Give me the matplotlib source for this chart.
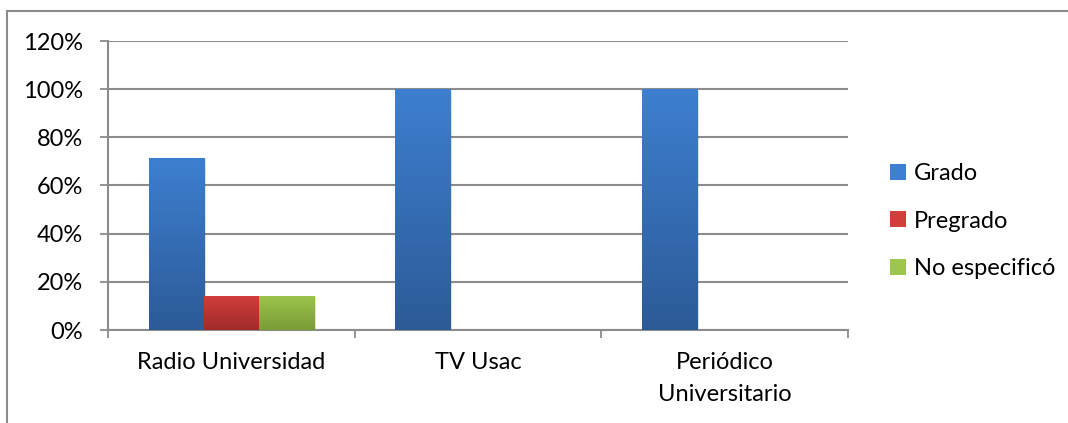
import matplotlib
matplotlib.use("Agg")
import matplotlib.pyplot as plt
import numpy as np
from matplotlib.colors import LinearSegmentedColormap
from matplotlib.patches import Rectangle

categories = ["Radio Universidad", "TV Usac", "Periódico\nUniversitario"]
series_names = ["Grado", "Pregrado", "No especificó"]
grado = [71.4, 100, 100]
pregrado = [14.3, 0, 0]
no_especifico = [14.3, 0, 0]
yticks = [0, 20, 40, 60, 80, 100, 120]

series = [grado, pregrado, no_especifico]
grads = [("#3d7fd0", "#2c5b97"), ("#d23f3b", "#a02b29"), ("#9dc64c", "#7a9b36")]

plt.rcParams['font.family'] = ['Lato', 'DejaVu Sans']
FS = 17

fig = plt.figure(figsize=(10.68, 4.23), dpi=100)
ax = fig.add_axes([108/1068, 1-330/423, (848-108)/1068, (330-41)/423])

# outer frame
fig.patches.append(Rectangle((7/1068, -0.1), 1.2, 1-11/423+0.1, transform=fig.transFigure,
                             fill=False, edgecolor="#8c8c8c", linewidth=1.5, zorder=0))

x = np.arange(len(categories))
w = 0.223
grad_img = np.linspace(1, 0, 256).reshape(-1, 1)
for i, (vals, name, (c1, c2)) in enumerate(zip(series, series_names, grads)):
    cmap = LinearSegmentedColormap.from_list(name, [c2, c1])
    bars = ax.bar(x + (i - 1) * w, vals, w, color=c1, label=name, zorder=3, linewidth=0)
    for b in bars:
        h = b.get_height()
        if h <= 0:
            continue
        bx, by, bw = b.get_x(), b.get_y(), b.get_width()
        ax.add_patch(Rectangle((bx + 0.008, by), bw, h - 0.6, facecolor="#000000", alpha=0.12,
                               linewidth=0, zorder=2.5))
        im = ax.imshow(grad_img, extent=[bx, bx + bw, by, by + h], aspect="auto",
                       cmap=cmap, zorder=3.5, origin="upper")
        im.set_clip_path(b)

ax.set_xlim(-0.5, 2.5)
ax.set_ylim(0, 120)
ax.set_yticks(yticks)
ax.set_yticklabels([f"{v}%" for v in yticks], fontsize=FS)
ax.set_xticks(x)
ax.set_xticklabels(categories, fontsize=FS, linespacing=1.65)
ax.set_xticks([-0.5, 0.5, 1.5, 2.5], minor=True)
ax.tick_params(axis="x", which="major", length=0, pad=16)
ax.tick_params(axis="x", which="minor", length=6, color="#8c8c8c", width=1.3, direction="out")
ax.tick_params(axis="y", length=6, color="#8c8c8c", width=1.3, pad=12)
ax.grid(axis="y", color="#8c8c8c", linewidth=1.5, zorder=0)
ax.set_axisbelow(True)
for s in ["top", "right"]:
    ax.spines[s].set_visible(False)
for s in ["left", "bottom"]:
    ax.spines[s].set_color("#8c8c8c")
    ax.spines[s].set_linewidth(1.5)

leg = ax.legend(loc="center left", bbox_to_anchor=(1.057, 0.377), frameon=False, fontsize=FS,
                handlelength=0.66, handleheight=0.66, handletextpad=0.35, labelspacing=1.12,
                borderaxespad=0, borderpad=0)

fig.savefig("out.png", dpi=100)
